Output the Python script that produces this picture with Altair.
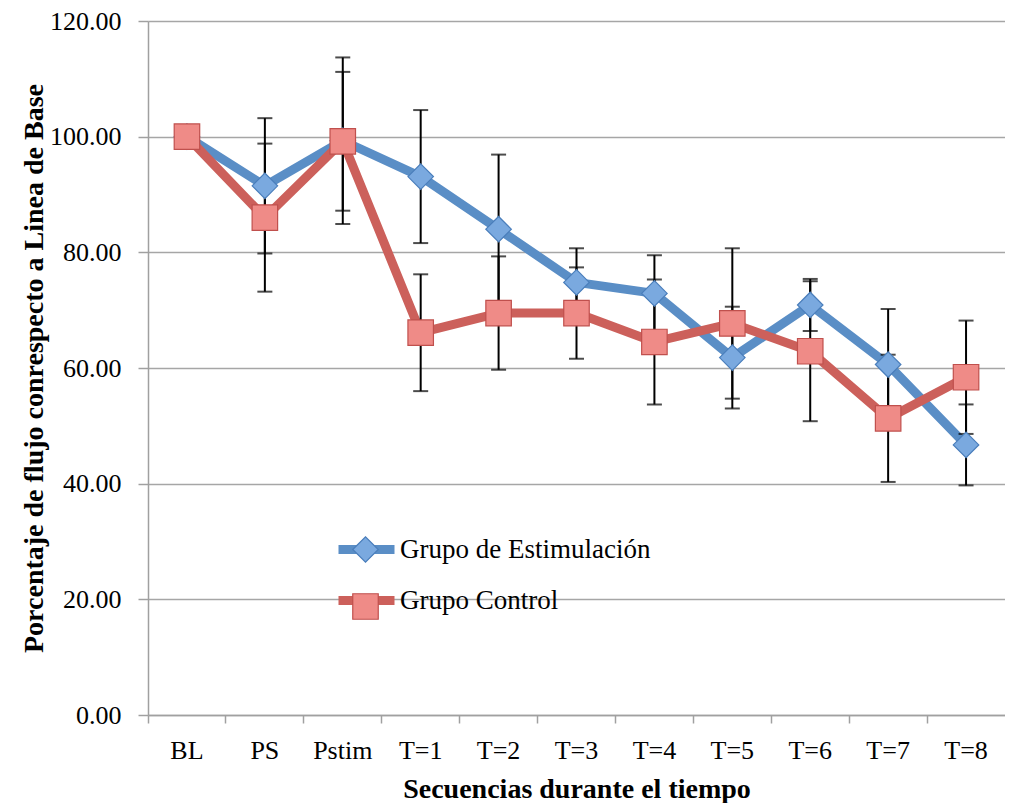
import altair as alt
import pandas as pd

categorias = ["BL", "PS", "Pstim", "T=1", "T=2", "T=3", "T=4", "T=5", "T=6", "T=7", "T=8"]
series = ["Grupo de Estimulación", "Grupo Control"]
claves = ["E", "C"]
estim = [100.0, 91.5, 99.3, 93.1, 84.0, 74.8, 72.9, 61.8, 70.9, 60.6, 46.7]
estim_err = [0.0, 11.7, 14.4, 11.5, 12.9, 5.9, 6.6, 8.8, 4.5, 9.6, 7.0]
control = [100.0, 86.0, 99.2, 66.1, 69.5, 69.5, 64.5, 67.7, 62.9, 51.3, 58.4]
control_err = [0.0, 12.8, 12.0, 10.1, 9.8, 7.9, 10.8, 13.0, 12.1, 11.0, 9.8]
y_ticks = [0, 20, 40, 60, 80, 100, 120]

line_colors = ["#5a8ec6", "#cc605b"]
fill_colors = ["#7aa9df", "#ef8b87"]
stroke_colors = ["#4a7ebb", "#c0504d"]

rows = []
for name, key, vals, errs in [(series[0], claves[0], estim, estim_err),
                              (series[1], claves[1], control, control_err)]:
    for c, v, e in zip(categorias, vals, errs):
        rows.append({"Secuencia": c, "Valor": v, "Err": e, "Grupo": name, "Clave": key,
                     "Lo": v - e, "Hi": v + e})
df = pd.DataFrame(rows)

FONT = "Liberation Serif"

x_enc = alt.X("Secuencia:N", sort=categorias,
              scale=alt.Scale(type="band", paddingInner=0, paddingOuter=0),
              axis=alt.Axis(title="Secuencias durante el tiempo", labelAngle=0,
                            bandPosition=0, tickSize=8, labelPadding=14,
                            titlePadding=12, grid=False))
y_scale = alt.Scale(domain=[0, 120], nice=False)
y_enc = alt.Y("Valor:Q", scale=y_scale,
              axis=alt.Axis(title="Porcentaje de flujo conrespecto a Linea de Base",
                            values=y_ticks, format=".2f", tickSize=10, labelPadding=17,
                            titleX=-100, grid=True))

base = alt.Chart(df)

lines = base.mark_line(strokeWidth=9, strokeJoin="round", strokeCap="round").encode(
    x=x_enc, y=y_enc,
    color=alt.Color("Grupo:N", scale=alt.Scale(domain=series, range=line_colors),
                    legend=alt.Legend(title=None, orient="none", legendX=186, legendY=496,
                                      symbolType="stroke", symbolSize=3136,
                                      symbolStrokeWidth=9, rowPadding=-12,
                                      labelFontSize=27, labelFont=FONT, labelColor="#000000",
                                      labelOffset=1, labelLimit=500, padding=0)),
)

err_df = base.transform_filter("datum.Err > 0")
rules = err_df.mark_rule(color="#000000", strokeWidth=2).encode(
    x="Secuencia:N", y=alt.Y("Lo:Q", scale=y_scale), y2="Hi:Q")
caps_lo = err_df.mark_tick(color="#000000", thickness=2, size=15).encode(
    x="Secuencia:N", y=alt.Y("Lo:Q", scale=y_scale))
caps_hi = err_df.mark_tick(color="#000000", thickness=2, size=15).encode(
    x="Secuencia:N", y=alt.Y("Hi:Q", scale=y_scale))

points = base.mark_point(filled=True, size=650, strokeWidth=1.2, opacity=1).encode(
    x="Secuencia:N", y=alt.Y("Valor:Q", scale=y_scale),
    fill=alt.Fill("Clave:N", scale=alt.Scale(domain=claves, range=fill_colors),
                  legend=alt.Legend(title=None, orient="none", legendX=204, legendY=515,
                                    symbolSize=650, rowPadding=26, labelOpacity=0,
                                    labelFontSize=26, padding=0, symbolStrokeWidth=1.2)),
    stroke=alt.Stroke("Clave:N", scale=alt.Scale(domain=claves, range=stroke_colors)),
    shape=alt.Shape("Clave:N", scale=alt.Scale(domain=claves, range=["diamond", "square"])),
)

chart = alt.layer(lines, rules, caps_lo, caps_hi, points).properties(
    width=857, height=694,
    autosize=alt.AutoSizeParams(type="none"),
    padding={"left": 140, "top": 13, "right": 0, "bottom": 88},
).configure_view(stroke=None).configure_axis(
    domainColor="#a0a0a0", domainWidth=1.5, tickColor="#a0a0a0", tickWidth=1.5,
    gridColor="#a6a6a6", gridWidth=1.5,
    labelFont=FONT, labelFontSize=26, labelColor="#000000",
    titleFont=FONT, titleFontSize=28, titleFontWeight="bold", titleColor="#000000",
)

chart.save("out.html", embed_options={"renderer": "svg", "actions": False})
